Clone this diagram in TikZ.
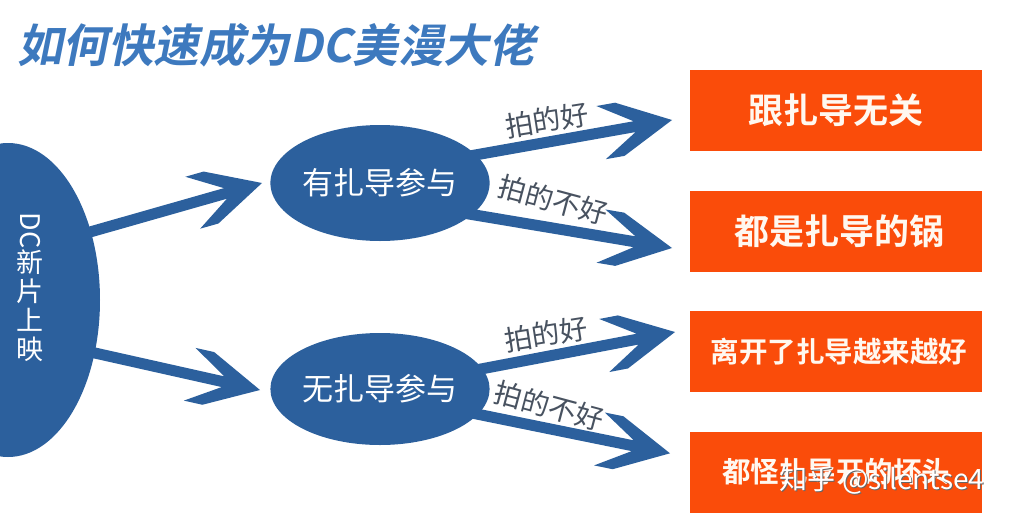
\documentclass[tikz,border=0pt]{standalone}
\usepackage{graphicx}
\usepackage{fontspec}
\newfontfamily\cjk{Noto Sans CJK SC}
\newfontfamily\cjkb{Noto Sans CJK SC Bold}
\newfontfamily\cjkt[FakeSlant=0.2]{Noto Sans CJK SC Bold}
\usetikzlibrary{calc,shapes.geometric}
\definecolor{dblue}{RGB}{44,96,157}
\definecolor{tblue}{RGB}{61,121,190}
\definecolor{orng}{RGB}{250,76,10}
\definecolor{lblgray}{RGB}{72,82,96}
\definecolor{boxtxt}{RGB}{255,248,240}
\newcommand\bigarrow[2]{%
 \fill[dblue] ($(#1)!5.5pt!90:(#2)$) -- ($($(#2)!38pt!(#1)$)!5.5pt!90:(#2)$)
   -- ($($(#2)!72pt!(#1)$)!27pt!90:(#2)$) -- ($($(#2)!53pt!(#1)$)!27pt!90:(#2)$)
   -- (#2)
   -- ($($(#2)!53pt!(#1)$)!27pt!-90:(#2)$) -- ($($(#2)!72pt!(#1)$)!27pt!-90:(#2)$)
   -- ($($(#2)!38pt!(#1)$)!5.5pt!-90:(#2)$) -- ($(#1)!5.5pt!-90:(#2)$) -- cycle;}
\tikzset{
  bubble/.style={ellipse, fill=dblue, inner sep=0pt, text=white},
  outbox/.style={rectangle, fill=orng, minimum width=292pt, minimum height=81pt, inner sep=0pt, text=boxtxt},
  lbl/.style={text=lblgray, inner sep=0pt, font=\cjk\fontsize{28}{28}\selectfont}
}
\begin{document}
\begin{tikzpicture}[x=1pt,y=-1pt]
\useasboundingbox (0,0) rectangle (1024,522);
\clip (0,0) rectangle (1024,522);
\fill[white] (0,0) rectangle (1024,522);

\node[anchor=west, text=tblue, inner sep=0pt, font=\cjkt\fontsize{45.5}{45.5}\selectfont] (title) at (17,45) {如何快速成为DC美漫大佬};

% coordinates for arrows
\coordinate (a1s) at (76,236);   \coordinate (a1e) at (262,183);
\coordinate (a2s) at (77,349);   \coordinate (a2e) at (260,390);
\coordinate (a3s) at (460,157.7); \coordinate (a3e) at (672,120);
\coordinate (a4s) at (460,212.5); \coordinate (a4e) at (672,248);
\coordinate (a5s) at (460,373);  \coordinate (a5e) at (675,332);
\coordinate (a6s) at (460,410.6); \coordinate (a6e) at (670,453.3);

\bigarrow{a1s}{a1e}
\bigarrow{a2s}{a2e}
\bigarrow{a3s}{a3e}
\bigarrow{a4s}{a4e}
\bigarrow{a5s}{a5e}
\bigarrow{a6s}{a6e}

\node[bubble, minimum width=184pt, minimum height=314pt] (src) at (8,300) {};
\node[text=white, inner sep=0pt, align=center, font=\cjk\fontsize{27}{29}\selectfont] (srctext) at (30,287) {\rotatebox{-90}{DC}\\新\\片\\上\\映};

\node[bubble, minimum width=214pt, minimum height=116pt, font=\cjk\fontsize{31}{31}\selectfont] (yes) at (380,183) {有扎导参与};
\node[bubble, minimum width=214pt, minimum height=112pt, font=\cjk\fontsize{31}{31}\selectfont] (no) at (380,389) {无扎导参与};

\node[lbl, rotate=9] (l1) at (547,120) {拍的好};
\node[lbl, rotate=-15] (l2) at (553,200) {拍的不好};
\node[lbl, rotate=9] (l3) at (546,334) {拍的好};
\node[lbl, rotate=-15] (l4) at (549,406) {拍的不好};

\node[outbox, font=\cjkb\fontsize{35}{35}\selectfont] (b1) at (836,110.5) {跟扎导无关};
\node[outbox, font=\cjkb\fontsize{35}{35}\selectfont] (b2) at (836,231.5) {\hspace{6pt}都是扎导的锅};
\node[outbox, font=\cjkb\fontsize{28.5}{28.5}\selectfont] (b3) at (836,351.5) {\hspace{6pt}离开了扎导越来越好};
\node[outbox, font=\cjkb\fontsize{28.5}{28.5}\selectfont] (b4) at (836,472) {都怪扎导开的坏头};

\node[text=black!60, inner sep=0pt, font=\cjk\fontsize{28}{28}\selectfont] (wms) at (883,481) {知乎 @silentse4};
\node[text=white, inner sep=0pt, font=\cjk\fontsize{28}{28}\selectfont] (wm) at (882,480) {知乎 @silentse4};
\end{tikzpicture}
\end{document}
